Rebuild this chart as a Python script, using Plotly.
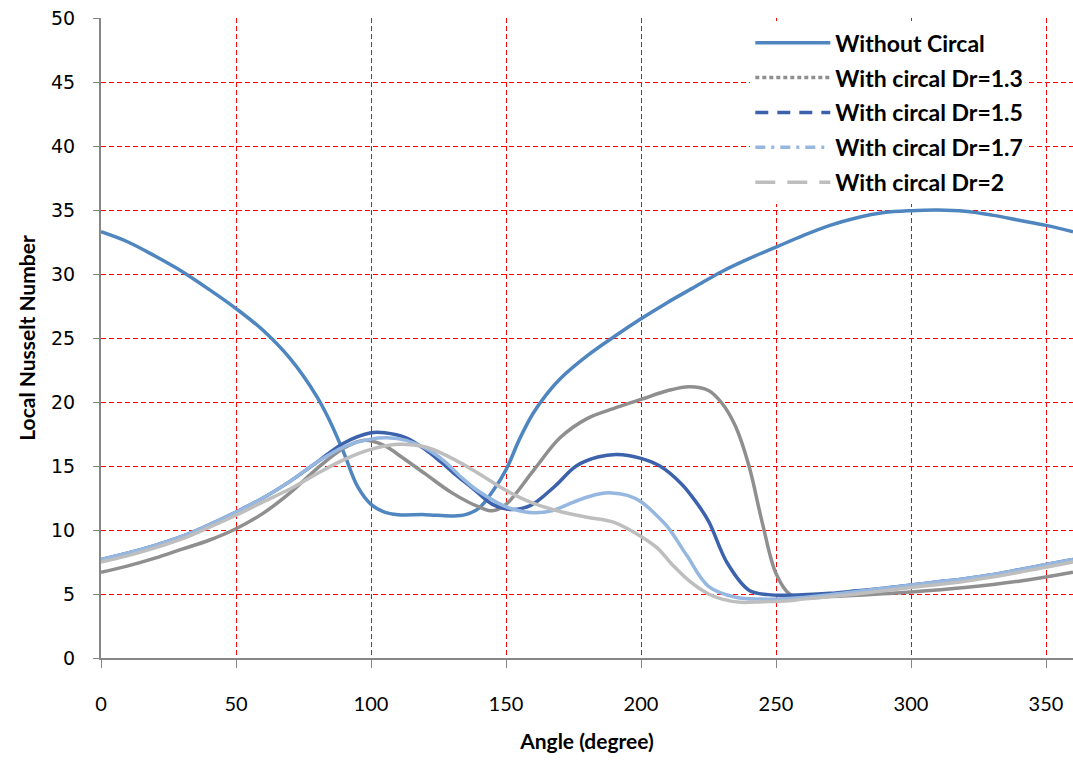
import plotly.graph_objects as go

# ---- data ----
ang_wo = [0, 10, 20, 30, 40, 50, 60, 70, 80, 85, 90, 95, 100, 105, 110, 120, 130, 135, 140, 145, 150,
          155, 160, 165, 170, 180, 190, 200, 210, 220, 230, 240, 250, 260, 270, 280, 290, 300, 310, 320,
          330, 340, 350, 360]
nu_wo = [33.3, 32.5, 31.4, 30.2, 28.8, 27.3, 25.6, 23.4, 20.4, 18.4, 16.0, 13.4, 12.0, 11.4, 11.2, 11.2,
         11.1, 11.2, 11.7, 13.0, 14.7, 17.1, 19.1, 20.6, 21.8, 23.6, 25.1, 26.5, 27.8, 29.0, 30.2, 31.2,
         32.1, 33.0, 33.8, 34.4, 34.8, 34.95, 35.0, 34.9, 34.6, 34.2, 33.8, 33.3]

ang_13 = [0, 10, 20, 30, 40, 50, 60, 70, 80, 90, 97, 105, 110, 120, 130, 140, 145, 150, 160, 170, 180,
          190, 200, 210, 218, 225, 230, 235, 240, 245, 250, 255, 260, 270, 280, 300, 320, 340, 360]
nu_13 = [6.7, 7.2, 7.8, 8.5, 9.2, 10.1, 11.3, 12.9, 14.8, 16.4, 17.0, 16.6, 15.9, 14.4, 12.9, 11.8, 11.5,
         12.0, 14.6, 17.2, 18.7, 19.5, 20.2, 20.9, 21.2, 20.9, 19.9, 18.1, 15.0, 10.5, 6.6, 5.0, 4.7,
         4.8, 4.9, 5.15, 5.5, 6.0, 6.7]

ang_15 = [0, 10, 20, 30, 40, 50, 60, 70, 80, 90, 100, 105, 113, 120, 126, 132, 138, 145, 152, 159, 168,
          176, 184, 191, 200, 207, 215, 220, 225, 232, 240, 247, 255, 270, 280, 290, 300, 310, 320, 330,
          340, 350, 360]
nu_15 = [7.7, 8.2, 8.8, 9.5, 10.4, 11.4, 12.5, 13.8, 15.3, 16.8, 17.6, 17.6, 17.2, 16.3, 15.3, 14.2, 13.2,
         12.0, 11.6, 11.9, 13.4, 15.0, 15.7, 15.9, 15.6, 15.0, 13.6, 12.3, 10.7, 7.4, 5.3, 4.95, 4.9,
         5.05, 5.25, 5.45, 5.7, 5.95, 6.2, 6.5, 6.9, 7.3, 7.7]

ang_17 = [0, 10, 20, 30, 40, 50, 60, 70, 80, 90, 100, 106, 113, 121, 127, 133, 138, 143, 148, 153, 160,
          167, 173, 179, 184, 189, 195, 200, 205, 210, 217, 225, 235, 245, 255, 270, 280, 290, 300, 310,
          320, 330, 340, 350, 360]
nu_17 = [7.7, 8.2, 8.8, 9.5, 10.4, 11.4, 12.5, 13.8, 15.3, 16.5, 17.1, 17.2, 17.0, 16.3, 15.4, 14.2, 13.3,
         12.6, 12.0, 11.6, 11.35, 11.5, 12.0, 12.5, 12.8, 12.9, 12.7, 12.2, 11.3, 10.2, 8.0, 5.6, 4.75,
         4.6, 4.65, 4.95, 5.2, 5.45, 5.7, 5.95, 6.2, 6.5, 6.9, 7.3, 7.7]

ang_20 = [0, 10, 20, 30, 40, 50, 60, 70, 80, 90, 100, 110, 120, 130, 140, 150, 160, 170, 180, 190, 200,
          206, 212, 218, 225, 230, 237, 245, 253, 260, 270, 280, 290, 300, 320, 340, 360]
nu_20 = [7.5, 8.0, 8.6, 9.3, 10.2, 11.15, 12.2, 13.2, 14.4, 15.5, 16.3, 16.7, 16.5, 15.6, 14.4, 13.1, 12.1,
         11.45, 11.0, 10.6, 9.5, 8.6, 7.2, 6.0, 5.0, 4.6, 4.35, 4.4, 4.45, 4.6, 4.8, 5.0, 5.25, 5.5, 6.0,
         6.7, 7.5]

names = ["Without Circal", "With circal Dr=1.3", "With circal Dr=1.5", "With circal Dr=1.7",
         "With circal Dr=2"]
xs = [ang_wo, ang_13, ang_15, ang_17, ang_20]
ys = [nu_wo, nu_13, nu_15, nu_17, nu_20]
colors = ["#4F86C0", "#8F8F8F", "#3D62AC", "#95B7E0", "#BEBEBE"]
legend_dash = ["solid", "4px,3px", "13px,9px", "10px,6px,3px,6px", "20px,12px"]

xticks = [0, 50, 100, 150, 200, 250, 300, 350]
yticks = [0, 5, 10, 15, 20, 25, 30, 35, 40, 45, 50]

fig = go.Figure()
for x, y, c in zip(xs, ys, colors):
    fig.add_trace(go.Scatter(x=x, y=y, mode="lines", showlegend=False,
                             line=dict(color=c, width=3.5, shape="spline", smoothing=1.0)))
for i, (n, c, d) in enumerate(zip(names, colors, legend_dash)):
    fig.add_trace(go.Scatter(x=[None], y=[None], mode="lines", name=n, legendgroup=f"g{i}",
                             line=dict(color=c, width=3.5, dash=d)))

fig.update_layout(
    width=1073, height=769,
    margin=dict(l=101, r=0, t=18, b=111),
    paper_bgcolor="white", plot_bgcolor="white",
    font=dict(family="Lato, Liberation Sans, sans-serif", size=21, color="black"),
    legend=dict(x=0.668, y=0.995, xanchor="left", yanchor="top", bgcolor="white",
                font=dict(size=23, family="Lato, sans-serif", weight="bold"),
                tracegroupgap=2, itemwidth=75, traceorder="grouped"),
    showlegend=True,
)
fig.update_xaxes(
    range=[0, 360], tickvals=xticks, ticktext=[str(v) for v in xticks],
    tickfont=dict(family="Lato, sans-serif", size=20),
    showgrid=True, gridcolor="#FF0000", gridwidth=1, griddash="5px,3px",
    showline=True, linecolor="#868686", linewidth=2,
    ticks="outside", ticklen=8, tickcolor="#868686", ticklabelstandoff=19,
    zeroline=False,
    title=dict(text="<b>Angle (degree)</b>", font=dict(size=21), standoff=20),
)
fig.update_yaxes(
    range=[0, 50], tickvals=yticks, ticktext=[str(v) for v in yticks],
    tickfont=dict(family="DejaVu Sans, sans-serif", size=19),
    showgrid=True, gridcolor="#FF0000", gridwidth=1, griddash="5px,3px",
    showline=True, linecolor="#868686", linewidth=2,
    ticks="outside", ticklen=6, tickcolor="#868686", ticklabelstandoff=14,
    zeroline=False,
    title=dict(text="<b>Local Nusselt Number</b>", font=dict(size=21), standoff=10),
)

fig.write_html("out.html")
